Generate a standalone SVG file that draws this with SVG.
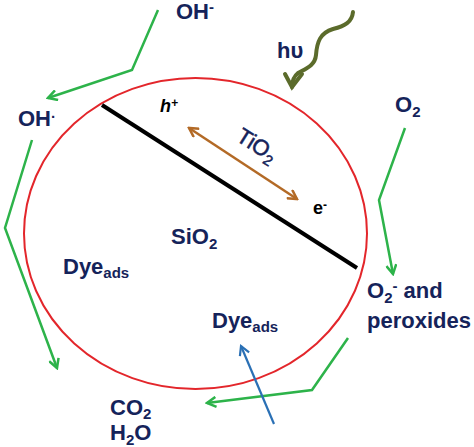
<svg xmlns="http://www.w3.org/2000/svg" width="474" height="447" viewBox="0 0 474 447">
<style>
.lbl{font-family:"Liberation Sans",Arial,sans-serif;font-weight:bold;font-size:22px;fill:#15235a}
.sub{font-size:15px}
.g{fill:none;stroke:#2db34a;stroke-width:2.5;stroke-linejoin:miter}
</style>
<defs>
<marker id="ag" viewBox="0 0 12 12" refX="10" refY="6" markerWidth="12" markerHeight="12" markerUnits="userSpaceOnUse" orient="auto"><path d="M1,1 L10,6 L1,11" fill="none" stroke="#2db34a" stroke-width="2.5"/></marker>
<marker id="ab" viewBox="0 0 12 12" refX="10" refY="6" markerWidth="12" markerHeight="12" markerUnits="userSpaceOnUse" orient="auto-start-reverse"><path d="M1,1 L10,6 L1,11" fill="none" stroke="#b36a26" stroke-width="2.5"/></marker>
<marker id="al" viewBox="0 0 12 12" refX="10" refY="6" markerWidth="12" markerHeight="12" markerUnits="userSpaceOnUse" orient="auto"><path d="M1,1 L10,6 L1,11" fill="none" stroke="#2a70b5" stroke-width="2.2"/></marker>
</defs>
<g id="particle">
<ellipse cx="195.5" cy="233.5" rx="171.5" ry="155.5" fill="none" stroke="#e3262b" stroke-width="2"/>
<line x1="102" y1="105" x2="357" y2="268" stroke="#000" stroke-width="4"/>
</g>
<g id="connectors">
<polyline class="g" points="158,10 132,70 48,98" marker-end="url(#ag)"/>
<polyline class="g" points="32,140 5,228 57,368" marker-end="url(#ag)"/>
<polyline class="g" points="405,128 379,200 393,274" marker-end="url(#ag)"/>
<polyline class="g" points="348,338 312,390 207,403" marker-end="url(#ag)"/>
<line x1="189" y1="128" x2="297" y2="199" stroke="#b36a26" stroke-width="2.5" marker-start="url(#ab)" marker-end="url(#ab)"/>
<line x1="274" y1="424" x2="241" y2="346" stroke="#2a70b5" stroke-width="2.2" marker-end="url(#al)"/>
<g id="light">
<path d="M353,12 C352,22 345,26 333,29 C320,33 317,42 316,55 C315,66 305,69 298,73 C293,77 292,82 292,87" fill="none" stroke="#5b6b2b" stroke-width="4" stroke-linecap="round"/>
<polyline points="285,74 292,87 302,74" fill="none" stroke="#5b6b2b" stroke-width="4" stroke-linecap="round" stroke-linejoin="miter"/>
</g>
</g>
<g id="oh-minus"><text class="lbl" x="176" y="19">OH<tspan class="sub" dy="-7">-</tspan></text></g>
<g id="oh-radical"><text class="lbl" x="18" y="126">OH<tspan class="sub" dy="-4">·</tspan></text></g>
<g id="hv"><text class="lbl" x="277" y="58">hυ</text></g>
<g id="o2"><text class="lbl" x="395" y="112">O<tspan class="sub" dy="5">2</tspan></text></g>
<g id="hole"><text x="160" y="112" font-family="Liberation Sans,Arial,sans-serif" font-style="italic" font-weight="bold" font-size="18" fill="#000">h<tspan font-size="12" dy="-5">+</tspan></text></g>
<g id="tio2"><text class="lbl" x="0" y="0" style="font-weight:normal" stroke="#15235a" stroke-width="0.5" transform="translate(235,140) rotate(32)">TiO<tspan class="sub" dy="5">2</tspan></text></g>
<g id="electron"><text x="313" y="214" font-family="Liberation Sans,Arial,sans-serif" font-weight="bold" font-size="18" fill="#000">e<tspan font-size="12" dy="-5">-</tspan></text></g>
<g id="sio2"><text class="lbl" x="171" y="244">SiO<tspan class="sub" dy="5">2</tspan></text></g>
<g id="dye-left"><text class="lbl" x="63" y="274">Dye<tspan class="sub" dy="4">ads</tspan></text></g>
<g id="dye-bottom"><text class="lbl" x="212" y="328">Dye<tspan class="sub" dy="4">ads</tspan></text></g>
<g id="superoxide"><text class="lbl" x="367" y="298">O<tspan class="sub" dy="5">2</tspan><tspan class="sub" dy="-12">-</tspan><tspan dy="7"> and</tspan></text><text class="lbl" x="367" y="328">peroxides</text></g>
<g id="products"><text class="lbl" x="110" y="415">CO<tspan class="sub" dy="4">2</tspan></text><text class="lbl" x="110" y="440">H<tspan class="sub" dy="5">2</tspan><tspan dy="-5">O</tspan></text></g>
</svg>
